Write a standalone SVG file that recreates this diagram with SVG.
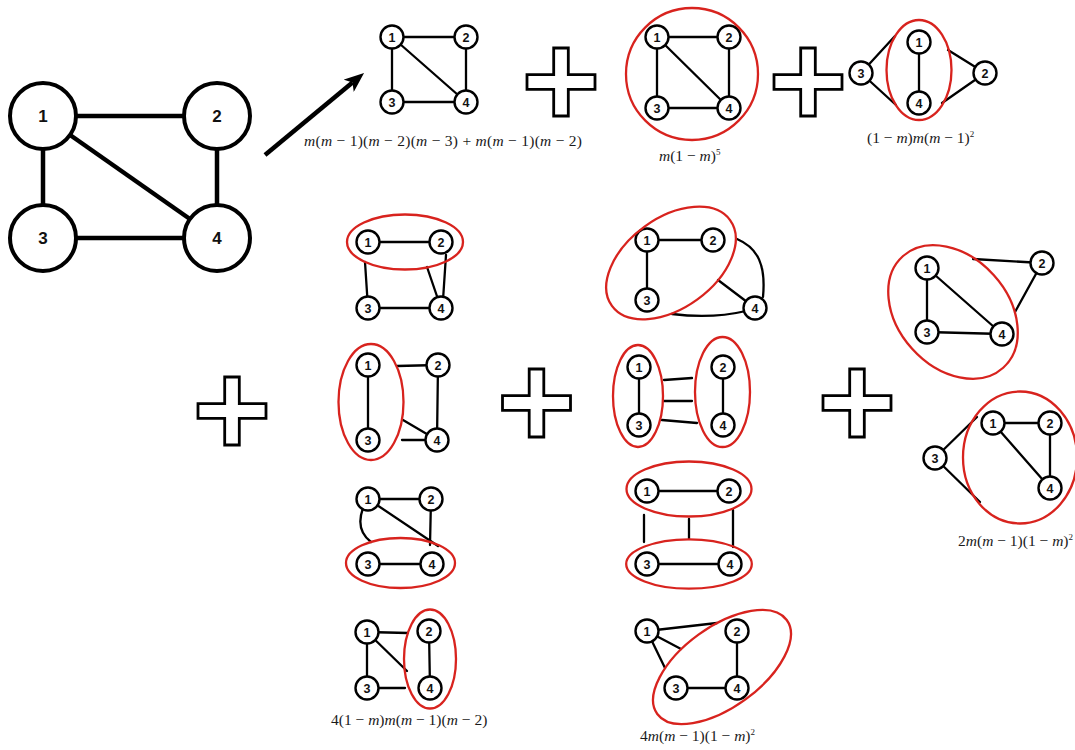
<svg xmlns="http://www.w3.org/2000/svg" width="1075" height="750" viewBox="0 0 1075 750">
  <style>
    .e { stroke: #000; stroke-width: 2.3; fill: none; stroke-linecap: round; }
    .E { stroke: #000; stroke-width: 4.5; fill: none; }
    .n circle { fill: #fff; stroke: #000; stroke-width: 2.4; }
    .n text { font-family: "Liberation Sans", Arial, sans-serif; font-weight: bold; font-size: 12.5px; text-anchor: middle; fill: #111; }
    .N circle { fill: #fff; stroke: #000; stroke-width: 4; }
    .N text { font-family: "Liberation Sans", Arial, sans-serif; font-weight: bold; font-size: 17px; text-anchor: middle; fill: #111; }
    .c { fill: none; stroke: #d8231e; stroke-width: 2.3; }
    .plus { fill: #fff; stroke: #000; stroke-width: 2.8; }
    .lbl { font-family: "Liberation Serif", "Times New Roman", serif; font-size: 15.5px; fill: #1a1a1a; }
    .v { font-style: italic; }
    .sup { font-size: 9px; }
  </style>
  <defs>
    <path id="plusShape" class="plus" d="M -7.3,-34 H 7.3 V -7.3 H 34 V 7.3 H 7.3 V 34 H -7.3 V 7.3 H -34 V -7.3 H -7.3 Z"/>
    <marker id="head" viewBox="0 0 20 16" refX="5" refY="8" markerWidth="20" markerHeight="16" markerUnits="userSpaceOnUse" orient="auto">
      <path d="M0,0 L20,8 L0,16 L5,8 Z" fill="#000"/>
    </marker>
  </defs>
  <rect width="1075" height="750" fill="#fff"/>

  <!-- edges of every graph -->
  <g id="connectors">
    <!-- main graph -->
    <line class="E" x1="43" y1="116" x2="217" y2="116"/>
    <line class="E" x1="43" y1="116" x2="43" y2="238"/>
    <line class="E" x1="217" y1="116" x2="217" y2="238"/>
    <line class="E" x1="43" y1="238" x2="217" y2="238"/>
    <line class="E" x1="43" y1="116" x2="217" y2="238"/>
    <!-- arrow -->
    <line x1="265" y1="155" x2="352.5" y2="82.6" stroke="#000" stroke-width="4.5" marker-end="url(#head)"/>

    <!-- g1 -->
    <line class="e" x1="392" y1="37" x2="466" y2="37"/>
    <line class="e" x1="392" y1="37" x2="392" y2="102"/>
    <line class="e" x1="466" y1="37" x2="466" y2="102"/>
    <line class="e" x1="392" y1="102" x2="466" y2="102"/>
    <line class="e" x1="392" y1="37" x2="466" y2="102"/>
    <!-- g2 -->
    <line class="e" x1="657" y1="37" x2="729" y2="37"/>
    <line class="e" x1="657" y1="37" x2="657" y2="108"/>
    <line class="e" x1="729" y1="37" x2="729" y2="108"/>
    <line class="e" x1="657" y1="108" x2="729" y2="108"/>
    <line class="e" x1="657" y1="37" x2="729" y2="108"/>
    <!-- g3 -->
    <line class="e" x1="919" y1="42" x2="919" y2="103"/>
    <line class="e" x1="861" y1="73" x2="895" y2="36"/>
    <line class="e" x1="861" y1="73" x2="896" y2="105"/>
    <line class="e" x1="948" y1="50" x2="985" y2="73"/>
    <line class="e" x1="942" y1="103" x2="985" y2="73"/>
    <!-- gA -->
    <line class="e" x1="368" y1="242" x2="441" y2="242"/>
    <line class="e" x1="365" y1="262" x2="368" y2="308"/>
    <line class="e" x1="427" y1="267" x2="441" y2="308"/>
    <line class="e" x1="446" y1="255" x2="443" y2="300"/>
    <line class="e" x1="368" y1="308" x2="441" y2="308"/>
    <!-- gB -->
    <line class="e" x1="368" y1="365" x2="368" y2="440"/>
    <line class="e" x1="397" y1="366" x2="438" y2="365"/>
    <line class="e" x1="403" y1="420" x2="437" y2="440"/>
    <line class="e" x1="438" y1="365" x2="437" y2="440"/>
    <line class="e" x1="402" y1="440" x2="437" y2="440"/>
    <!-- gC -->
    <line class="e" x1="368" y1="499" x2="431" y2="499"/>
    <line class="e" x1="431" y1="499" x2="430" y2="545"/>
    <line class="e" x1="368" y1="499" x2="438" y2="546"/>
    <path class="e" d="M 363,508 Q 355,530 371,542"/>
    <line class="e" x1="368" y1="564" x2="432" y2="564"/>
    <!-- gD -->
    <line class="e" x1="367" y1="632" x2="408" y2="633"/>
    <line class="e" x1="367" y1="632" x2="407" y2="671"/>
    <line class="e" x1="367" y1="632" x2="367" y2="688"/>
    <line class="e" x1="367" y1="688" x2="405" y2="688"/>
    <line class="e" x1="429" y1="631" x2="430" y2="688"/>
    <!-- gE -->
    <line class="e" x1="647" y1="240" x2="713" y2="240"/>
    <line class="e" x1="647" y1="240" x2="647" y2="300"/>
    <path class="e" d="M 737,239 C 758,248 766,265 763,297"/>
    <line class="e" x1="718" y1="280" x2="755" y2="308"/>
    <path class="e" d="M 672,314 Q 712,319 746,311"/>
    <!-- gF -->
    <line class="e" x1="639" y1="367" x2="639" y2="425"/>
    <line class="e" x1="723" y1="367" x2="723" y2="425"/>
    <line class="e" x1="664" y1="380" x2="692" y2="378"/>
    <line class="e" x1="664" y1="401" x2="692" y2="401"/>
    <line class="e" x1="662" y1="420" x2="697" y2="423"/>
    <!-- gG -->
    <line class="e" x1="647" y1="491" x2="729" y2="491"/>
    <line class="e" x1="647" y1="564" x2="730" y2="564"/>
    <line class="e" x1="644" y1="515" x2="644" y2="542"/>
    <line class="e" x1="689" y1="519" x2="689" y2="539"/>
    <line class="e" x1="733" y1="510" x2="733" y2="547"/>
    <!-- gH -->
    <line class="e" x1="647" y1="631" x2="717" y2="623"/>
    <line class="e" x1="647" y1="631" x2="681" y2="649"/>
    <line class="e" x1="647" y1="631" x2="665" y2="668"/>
    <line class="e" x1="737" y1="631" x2="737" y2="688"/>
    <line class="e" x1="676" y1="688" x2="737" y2="688"/>
    <!-- gI -->
    <line class="e" x1="927" y1="268" x2="927" y2="332"/>
    <line class="e" x1="927" y1="268" x2="1002" y2="334"/>
    <line class="e" x1="927" y1="332" x2="1002" y2="334"/>
    <line class="e" x1="973" y1="259" x2="1042" y2="263"/>
    <line class="e" x1="1015" y1="312" x2="1042" y2="263"/>
    <!-- gJ -->
    <line class="e" x1="935" y1="458" x2="977" y2="417"/>
    <line class="e" x1="935" y1="458" x2="980" y2="502"/>
    <line class="e" x1="993" y1="423" x2="1050" y2="423"/>
    <line class="e" x1="1050" y1="423" x2="1050" y2="488"/>
    <line class="e" x1="993" y1="423" x2="1050" y2="488"/>
  </g>

  <!-- main graph vertices -->
  <g id="main-n1" class="N"><circle cx="43" cy="116" r="33"/><text x="43" y="122">1</text></g>
  <g id="main-n2" class="N"><circle cx="217" cy="116" r="33"/><text x="217" y="122">2</text></g>
  <g id="main-n3" class="N"><circle cx="43" cy="238" r="33"/><text x="43" y="244">3</text></g>
  <g id="main-n4" class="N"><circle cx="217" cy="238" r="33"/><text x="217" y="244">4</text></g>

  <!-- g1 -->
  <g id="g1-n1" class="n"><circle cx="392" cy="37" r="11.5"/><text x="392" y="41.5">1</text></g>
  <g id="g1-n2" class="n"><circle cx="466" cy="37" r="11.5"/><text x="466" y="41.5">2</text></g>
  <g id="g1-n3" class="n"><circle cx="392" cy="102" r="11.5"/><text x="392" y="106.5">3</text></g>
  <g id="g1-n4" class="n"><circle cx="466" cy="102" r="11.5"/><text x="466" y="106.5">4</text></g>
  <!-- g2 -->
  <g id="g2-n1" class="n"><circle cx="657" cy="37" r="11.5"/><text x="657" y="41.5">1</text></g>
  <g id="g2-n2" class="n"><circle cx="729" cy="37" r="11.5"/><text x="729" y="41.5">2</text></g>
  <g id="g2-n3" class="n"><circle cx="657" cy="108" r="11.5"/><text x="657" y="112.5">3</text></g>
  <g id="g2-n4" class="n"><circle cx="729" cy="108" r="11.5"/><text x="729" y="112.5">4</text></g>
  <!-- g3 -->
  <g id="g3-n1" class="n"><circle cx="919" cy="42" r="11.5"/><text x="919" y="46.5">1</text></g>
  <g id="g3-n2" class="n"><circle cx="985" cy="73" r="11.5"/><text x="985" y="77.5">2</text></g>
  <g id="g3-n3" class="n"><circle cx="861" cy="73" r="11.5"/><text x="861" y="77.5">3</text></g>
  <g id="g3-n4" class="n"><circle cx="919" cy="103" r="11.5"/><text x="919" y="107.5">4</text></g>
  <!-- gA -->
  <g id="gA-n1" class="n"><circle cx="368" cy="242" r="11.5"/><text x="368" y="246.5">1</text></g>
  <g id="gA-n2" class="n"><circle cx="441" cy="242" r="11.5"/><text x="441" y="246.5">2</text></g>
  <g id="gA-n3" class="n"><circle cx="368" cy="308" r="11.5"/><text x="368" y="312.5">3</text></g>
  <g id="gA-n4" class="n"><circle cx="441" cy="308" r="11.5"/><text x="441" y="312.5">4</text></g>
  <!-- gB -->
  <g id="gB-n1" class="n"><circle cx="368" cy="365" r="11.5"/><text x="368" y="369.5">1</text></g>
  <g id="gB-n2" class="n"><circle cx="438" cy="365" r="11.5"/><text x="438" y="369.5">2</text></g>
  <g id="gB-n3" class="n"><circle cx="368" cy="440" r="11.5"/><text x="368" y="444.5">3</text></g>
  <g id="gB-n4" class="n"><circle cx="437" cy="440" r="11.5"/><text x="437" y="444.5">4</text></g>
  <!-- gC -->
  <g id="gC-n1" class="n"><circle cx="368" cy="499" r="11.5"/><text x="368" y="503.5">1</text></g>
  <g id="gC-n2" class="n"><circle cx="431" cy="499" r="11.5"/><text x="431" y="503.5">2</text></g>
  <g id="gC-n3" class="n"><circle cx="368" cy="564" r="11.5"/><text x="368" y="568.5">3</text></g>
  <g id="gC-n4" class="n"><circle cx="432" cy="564" r="11.5"/><text x="432" y="568.5">4</text></g>
  <!-- gD -->
  <g id="gD-n1" class="n"><circle cx="367" cy="632" r="11.5"/><text x="367" y="636.5">1</text></g>
  <g id="gD-n2" class="n"><circle cx="429" cy="631" r="11.5"/><text x="429" y="635.5">2</text></g>
  <g id="gD-n3" class="n"><circle cx="367" cy="688" r="11.5"/><text x="367" y="692.5">3</text></g>
  <g id="gD-n4" class="n"><circle cx="430" cy="688" r="11.5"/><text x="430" y="692.5">4</text></g>
  <!-- gE -->
  <g id="gE-n1" class="n"><circle cx="647" cy="240" r="11.5"/><text x="647" y="244.5">1</text></g>
  <g id="gE-n2" class="n"><circle cx="713" cy="240" r="11.5"/><text x="713" y="244.5">2</text></g>
  <g id="gE-n3" class="n"><circle cx="647" cy="300" r="11.5"/><text x="647" y="304.5">3</text></g>
  <g id="gE-n4" class="n"><circle cx="755" cy="308" r="11.5"/><text x="755" y="312.5">4</text></g>
  <!-- gF -->
  <g id="gF-n1" class="n"><circle cx="639" cy="367" r="11.5"/><text x="639" y="371.5">1</text></g>
  <g id="gF-n2" class="n"><circle cx="723" cy="367" r="11.5"/><text x="723" y="371.5">2</text></g>
  <g id="gF-n3" class="n"><circle cx="639" cy="425" r="11.5"/><text x="639" y="429.5">3</text></g>
  <g id="gF-n4" class="n"><circle cx="723" cy="425" r="11.5"/><text x="723" y="429.5">4</text></g>
  <!-- gG -->
  <g id="gG-n1" class="n"><circle cx="647" cy="491" r="11.5"/><text x="647" y="495.5">1</text></g>
  <g id="gG-n2" class="n"><circle cx="729" cy="491" r="11.5"/><text x="729" y="495.5">2</text></g>
  <g id="gG-n3" class="n"><circle cx="647" cy="564" r="11.5"/><text x="647" y="568.5">3</text></g>
  <g id="gG-n4" class="n"><circle cx="730" cy="564" r="11.5"/><text x="730" y="568.5">4</text></g>
  <!-- gH -->
  <g id="gH-n1" class="n"><circle cx="647" cy="631" r="11.5"/><text x="647" y="635.5">1</text></g>
  <g id="gH-n2" class="n"><circle cx="737" cy="631" r="11.5"/><text x="737" y="635.5">2</text></g>
  <g id="gH-n3" class="n"><circle cx="676" cy="688" r="11.5"/><text x="676" y="692.5">3</text></g>
  <g id="gH-n4" class="n"><circle cx="737" cy="688" r="11.5"/><text x="737" y="692.5">4</text></g>
  <!-- gI -->
  <g id="gI-n1" class="n"><circle cx="927" cy="268" r="11.5"/><text x="927" y="272.5">1</text></g>
  <g id="gI-n2" class="n"><circle cx="1042" cy="263" r="11.5"/><text x="1042" y="267.5">2</text></g>
  <g id="gI-n3" class="n"><circle cx="927" cy="332" r="11.5"/><text x="927" y="336.5">3</text></g>
  <g id="gI-n4" class="n"><circle cx="1002" cy="334" r="11.5"/><text x="1002" y="338.5">4</text></g>
  <!-- gJ -->
  <g id="gJ-n1" class="n"><circle cx="993" cy="423" r="11.5"/><text x="993" y="427.5">1</text></g>
  <g id="gJ-n2" class="n"><circle cx="1050" cy="423" r="11.5"/><text x="1050" y="427.5">2</text></g>
  <g id="gJ-n3" class="n"><circle cx="935" cy="458" r="11.5"/><text x="935" y="462.5">3</text></g>
  <g id="gJ-n4" class="n"><circle cx="1050" cy="488" r="11.5"/><text x="1050" y="492.5">4</text></g>

  <!-- merged-vertex outlines -->
  <g id="clusters">
    <circle class="c" cx="692" cy="74" r="66" stroke="#c0282a"/>
    <ellipse class="c" cx="919" cy="70" rx="32.5" ry="50"/>
    <ellipse class="c" cx="405" cy="242" rx="58" ry="27.5"/>
    <ellipse class="c" cx="371" cy="402" rx="32.5" ry="58"/>
    <ellipse class="c" cx="400.5" cy="563" rx="54.5" ry="25"/>
    <ellipse class="c" cx="430" cy="659" rx="26" ry="49.5"/>
    <ellipse class="c" cx="671" cy="263" rx="73" ry="45" transform="rotate(-36 671 263)"/>
    <ellipse class="c" cx="638" cy="396" rx="25" ry="51"/>
    <ellipse class="c" cx="722.5" cy="392" rx="27.5" ry="55"/>
    <ellipse class="c" cx="689" cy="489" rx="62.5" ry="27.5"/>
    <ellipse class="c" cx="689" cy="564" rx="62.8" ry="24.7"/>
    <ellipse class="c" cx="722" cy="667" rx="80" ry="40" transform="rotate(-36 722 667)"/>
    <ellipse class="c" cx="953" cy="312" rx="75" ry="55" transform="rotate(48 953 312)"/>
    <ellipse class="c" cx="1020" cy="457.5" rx="57" ry="66"/>
  </g>

  <!-- plus signs -->
  <g id="plus-signs">
    <use href="#plusShape" x="561" y="82"/>
    <use href="#plusShape" x="808" y="82"/>
    <use href="#plusShape" x="232" y="411"/>
    <use href="#plusShape" x="536.5" y="403"/>
    <use href="#plusShape" x="857" y="403"/>
  </g>

  <!-- polynomial terms -->
  <g id="labels" class="lbl">
    <text x="304" y="146" textLength="278" lengthAdjust="spacing"><tspan class="v">m</tspan>(<tspan class="v">m</tspan> − 1)(<tspan class="v">m</tspan> − 2)(<tspan class="v">m</tspan> − 3) + <tspan class="v">m</tspan>(<tspan class="v">m</tspan> − 1)(<tspan class="v">m</tspan> − 2)</text>
    <text x="659" y="161"><tspan class="v">m</tspan>(1 − <tspan class="v">m</tspan>)<tspan class="sup" dy="-6">5</tspan></text>
    <text x="867" y="143"><tspan>(1 − </tspan><tspan class="v">m</tspan>)<tspan class="v">m</tspan>(<tspan class="v">m</tspan> − 1)<tspan class="sup" dy="-6">2</tspan></text>
    <text x="331" y="725">4(1 − <tspan class="v">m</tspan>)<tspan class="v">m</tspan>(<tspan class="v">m</tspan> − 1)(<tspan class="v">m</tspan> − 2)</text>
    <text x="640" y="741">4<tspan class="v">m</tspan>(<tspan class="v">m</tspan> − 1)(1 − <tspan class="v">m</tspan>)<tspan class="sup" dy="-6">2</tspan></text>
    <text x="958" y="546">2<tspan class="v">m</tspan>(<tspan class="v">m</tspan> − 1)(1 − <tspan class="v">m</tspan>)<tspan class="sup" dy="-6">2</tspan></text>
  </g>
</svg>
